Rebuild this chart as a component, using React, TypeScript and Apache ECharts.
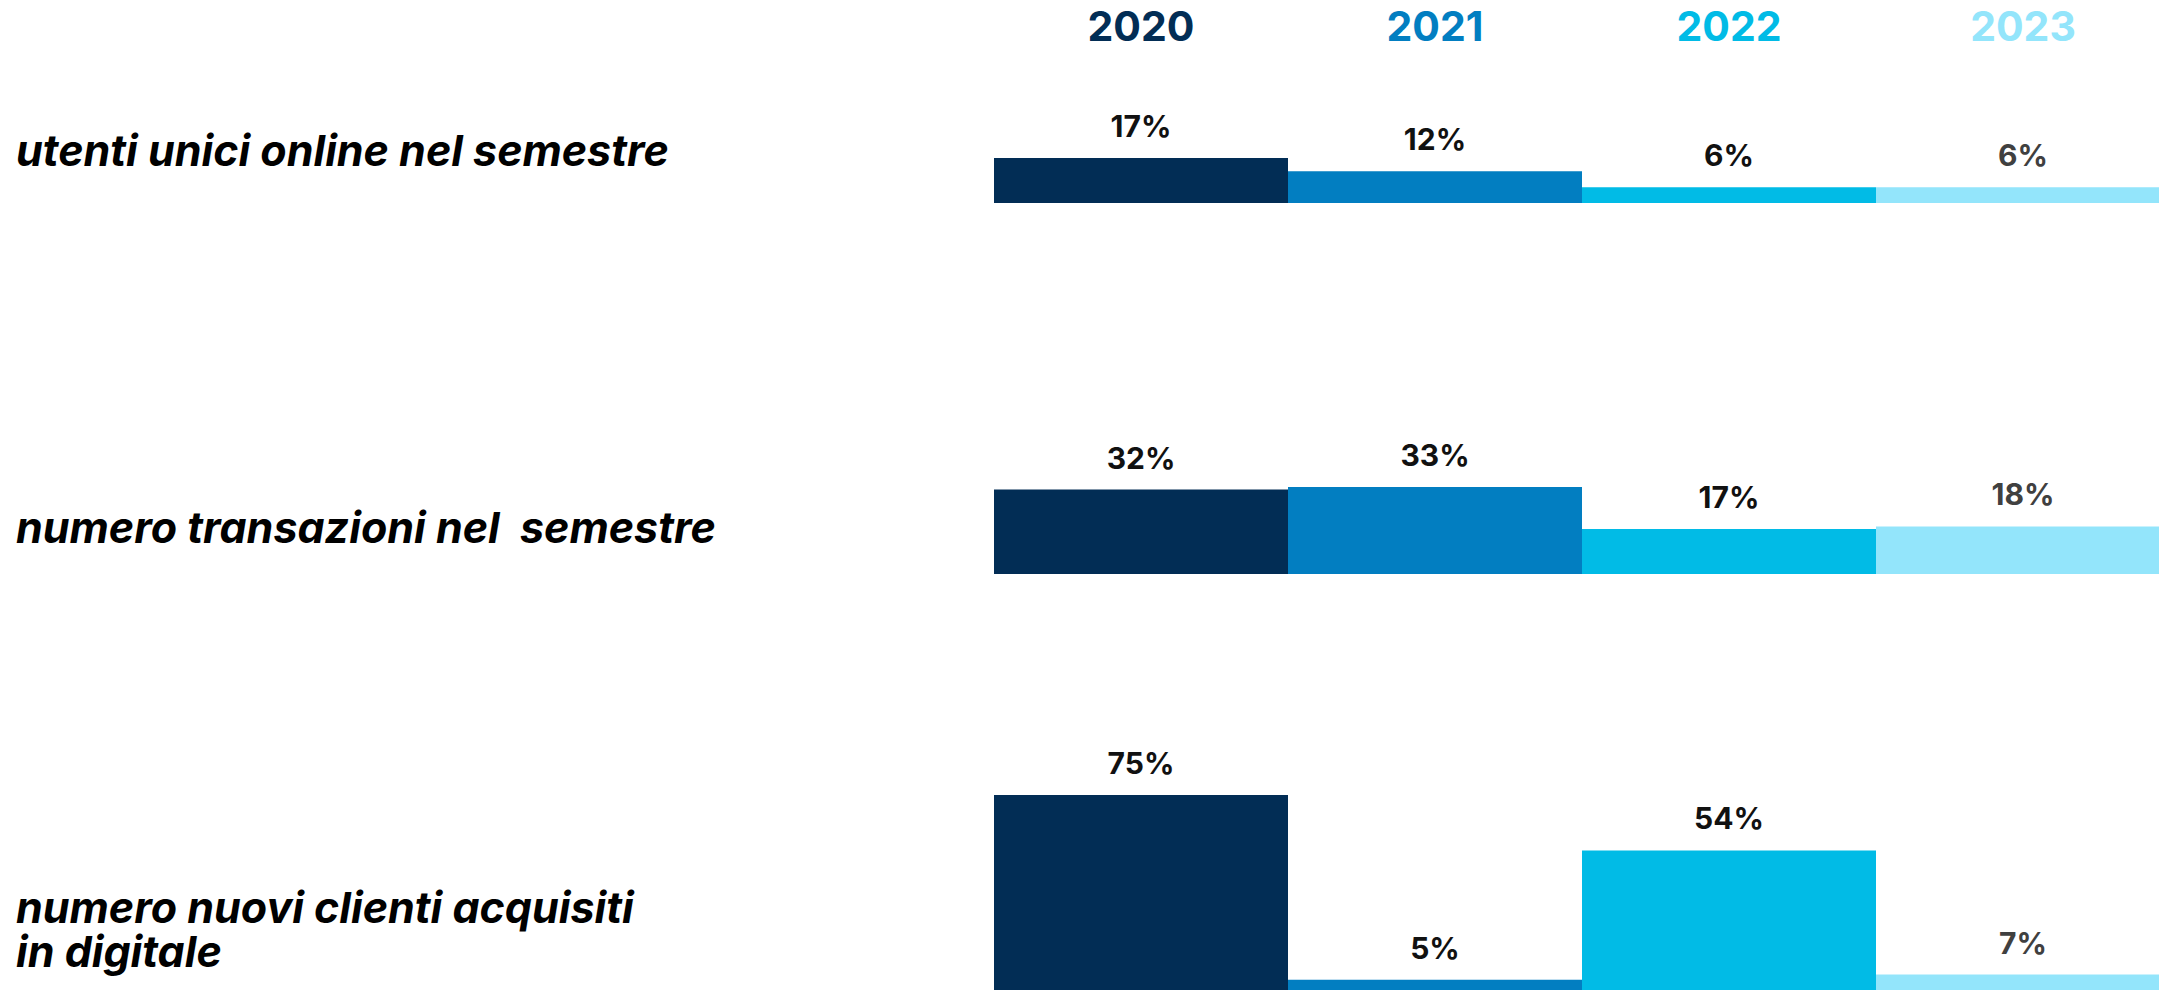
import React, { useEffect, useRef } from "react";
import * as echarts from "echarts";

const years = ["2020", "2021", "2022", "2023"];
const rowLabels = [
  "utenti unici online nel semestre",
  "numero transazioni nel  semestre",
  "numero nuovi clienti acquisiti\nin digitale",
];
const utentiUnici = [17, 12, 6, 6];
const transazioni = [32, 33, 17, 18];
const nuoviClienti = [75, 5, 54, 7];
const rows = [utentiUnici, transazioni, nuoviClienti];

const barColors = ["#022d55", "#027ec1", "#01bbe6", "#93e5fb"];
const labelColors = ["#111111", "#111111", "#111111", "#404040"];

const FONT = "Inter, 'Open Sans', sans-serif";
const PX_PER_PCT = 2.64;
const MAXV = 75;
const H = MAXV * PX_PER_PCT;
const baselines = [203, 574, 993];
const rowTitleTops = [128, 505, 885];
const LINE_H = 44;

export default function App() {
  const ref = useRef<HTMLDivElement>(null);
  useEffect(() => {
    if (!ref.current) return;
    const chart = echarts.init(ref.current, undefined, { renderer: "svg" });
    const grids = baselines.map((b) => ({
      left: 994,
      width: 1176,
      top: b - H,
      height: H,
      containLabel: false,
      outerBoundsMode: "none",
    }));
    const xAxes = rows.map((_, i) => ({
      type: "category",
      gridIndex: i,
      data: years,
      position: i === 0 ? "top" : "bottom",
      offset: i === 0 ? -43 : 0,
      axisLine: { show: false },
      axisTick: { show: false },
      axisLabel:
        i === 0
          ? {
              show: true,
              margin: 2,
              fontSize: 41,
              lineHeight: 40,
              fontWeight: "bold",
              fontFamily: FONT,
              color: (_v: string, idx: number) => barColors[idx],
            }
          : { show: false },
    }));
    const yAxes = rows.map((_, i) => ({
      type: "value",
      gridIndex: i,
      min: 0,
      max: MAXV,
      show: false,
      splitLine: { show: false },
    }));
    const series = rows.map((vals, i) => ({
      type: "bar",
      xAxisIndex: i,
      yAxisIndex: i,
      barCategoryGap: "0%",
      data: vals.map((v, j) => ({
        value: v,
        itemStyle: { color: barColors[j] },
        label: { color: labelColors[j] },
      })),
      label: {
        show: true,
        position: "top",
        distance: 17,
        formatter: "{c}%",
        fontSize: 30,
        fontWeight: "bold",
        fontFamily: FONT,
      },
    }));
    const titles: any[] = [];
    rowLabels.forEach((t, i) => {
      t.split("\n").forEach((line, k) => {
        titles.push({
          text: line,
          left: 16,
          top: rowTitleTops[i] + k * LINE_H,
          padding: 0,
          textStyle: {
            fontSize: 43,
            fontWeight: "bold",
            fontStyle: "italic",
            fontFamily: FONT,
            color: "#000000",
            lineHeight: LINE_H,
          },
        });
      });
    });
    chart.setOption({
      animation: false,
      backgroundColor: "#ffffff",
      title: titles,
      grid: grids,
      xAxis: xAxes,
      yAxis: yAxes,
      series,
    });
    return () => chart.dispose();
  }, []);
  return (
    <div
      ref={ref}
      style={{ position: "absolute", left: 0, top: 0, width: 2159, height: 990 }}
    />
  );
}
